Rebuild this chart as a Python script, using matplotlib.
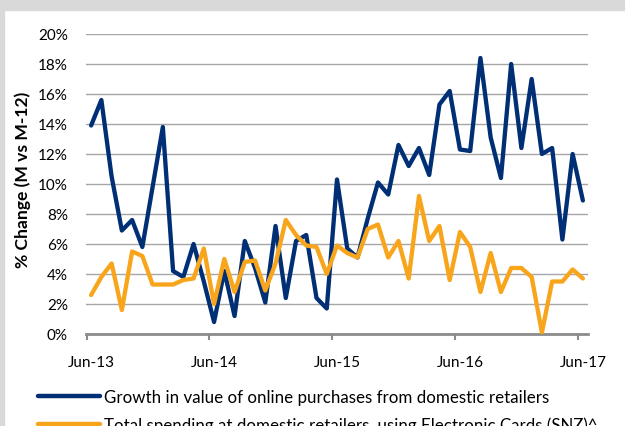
import matplotlib
matplotlib.use("Agg")
import matplotlib.pyplot as plt
from matplotlib.patches import Rectangle

# monthly, Jun-13 .. Jun-17
online = [13.9, 15.6, 10.5, 6.9, 7.6, 5.8, 9.8, 13.8, 4.2, 3.8,
          6.0, 3.5, 0.8, 4.2, 1.2, 6.2, 4.4, 2.1, 7.2, 2.4,
          6.2, 6.6, 2.4, 1.7, 10.3, 5.7, 5.1, 7.7, 10.1, 9.3,
          12.6, 11.2, 12.4, 10.6, 15.3, 16.2, 12.3, 12.2, 18.4, 13.1,
          10.4, 18.0, 12.4, 17.0, 12.0, 12.4, 6.3, 12.0, 8.9]
cards = [2.6, 3.8, 4.7, 1.6, 5.5, 5.2, 3.3, 3.3, 3.3, 3.6,
         3.7, 5.7, 2.0, 5.0, 2.8, 4.8, 4.9, 2.9, 4.7, 7.6,
         6.6, 5.9, 5.8, 4.0, 5.9, 5.4, 5.1, 7.0, 7.3, 5.1,
         6.2, 3.7, 9.2, 6.2, 7.2, 3.6, 6.8, 5.8, 2.8, 5.4,
         2.8, 4.4, 4.4, 3.8, 0.1, 3.5, 3.5, 4.3, 3.7]
tick_labels = ["Jun-13", "Jun-14", "Jun-15", "Jun-16", "Jun-17"]
yticks = list(range(0, 21, 2))

BLUE = "#002F75"
ORANGE = "#F8A51B"

plt.rcParams['font.family'] = ['Lato', 'DejaVu Sans']

fig = plt.figure(figsize=(6.25, 4.27), dpi=100)
# grey frame of the slide
fig.patches.append(Rectangle((0, 1 - 11 / 427), 1, 11 / 427, transform=fig.transFigure,
                             color="#d9d9d9", zorder=0))
fig.patches.append(Rectangle((0, 0), 4 / 625, 1, transform=fig.transFigure,
                             color="#d9d9d9", zorder=0))

ax = fig.add_axes([86 / 625, 92 / 427, 502 / 625, 300 / 427])
x = list(range(len(online)))
ax.plot(x, online, color=BLUE, lw=3.1, solid_capstyle="round",
        label="Growth in value of online purchases from domestic retailers", zorder=3)
ax.plot(x, cards, color=ORANGE, lw=3.1, solid_capstyle="round",
        label="Total spending at domestic retailers, using Electronic Cards (SNZ)^", zorder=3)

ax.set_xlim(-0.5, 48.5)
ax.set_ylim(0, 20)
ax.set_yticks(yticks)
ax.set_yticklabels([f"{v}%" for v in yticks], fontsize=11)
# labels sit on the points, tick marks slightly to the left (as in Excel)
ax.set_xticks([12 * k for k in range(5)])
ax.set_xticklabels(tick_labels, fontsize=11)
ax.set_xticks([12 * k - 0.45 for k in range(5)], minor=True)
ax.yaxis.grid(True, color="#a6a6a6", lw=1)
ax.set_axisbelow(True)
for s in ["top", "right", "left"]:
    ax.spines[s].set_visible(False)
ax.spines["bottom"].set_color("#8c8c8c")
ax.spines["bottom"].set_linewidth(2)
ax.tick_params(axis="y", length=0, pad=13)
ax.tick_params(axis="x", which="major", length=0, pad=15)
ax.tick_params(axis="x", which="minor", length=4, width=1.5, color="#8c8c8c")

fig.text(23 / 625, 1 - 180 / 427, "% Change (M vs M-12)", rotation=90,
         ha="center", va="center", fontsize=12.6, fontweight="bold")

leg = fig.legend(loc="upper left", bbox_to_anchor=(38 / 625, 1 - 390 / 427), frameon=False,
                 fontsize=12.2, handlelength=3.65, handletextpad=0.25, labelspacing=0.65,
                 borderaxespad=0, borderpad=0)
for h in leg.get_lines():
    h.set_linewidth(3.2)
    h.set_solid_capstyle("round")

fig.savefig("out.png", dpi=100)
